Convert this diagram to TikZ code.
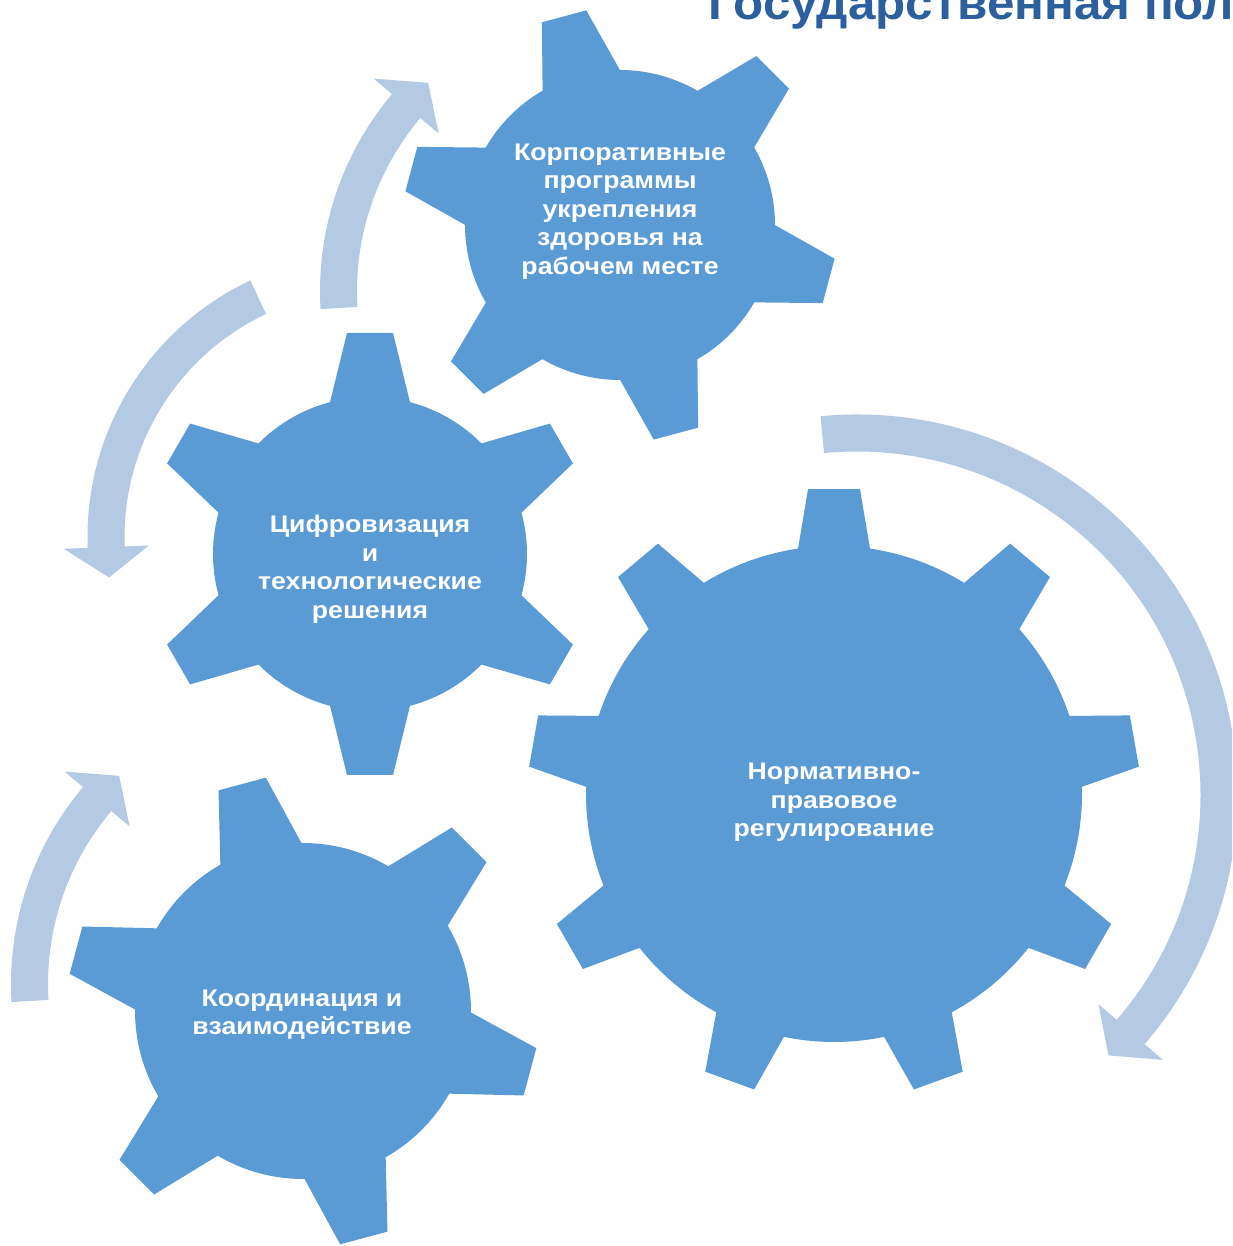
\documentclass[tikz,border=0pt]{standalone}
\usepackage{fontspec}
\setmainfont{Liberation Sans}
\newfontfamily\gearfont[FakeStretch=1.11]{Liberation Sans}
\newfontfamily\titlefont[FakeStretch=1.05]{Liberation Sans}
\definecolor{gearblue}{HTML}{5B9BD5}
\definecolor{arrowblue}{HTML}{B4C9E4}
\definecolor{titleblue}{HTML}{2C5F9E}
% gear: #1 centre, #2 tooth angles, #3 step, #4 body r, #5 base half width, #6 tip dist, #7 tip half width, #8 first angle
\newcommand{\gearshape}[8]{%
  \pgfmathsetmacro\gdb{asin(#5/#4)}%
  \pgfmathsetmacro\gdt{atan(#7/#6)}%
  \pgfmathsetlengthmacro\grt{100*sqrt((#6/100)*(#6/100)+(#7/100)*(#7/100))}%
  \fill[gearblue, shift={(#1)}] (#8-\gdb:#4pt)
    \foreach \t in {#2} { -- (\t-\gdt:\grt) -- (\t+\gdt:\grt) -- (\t+\gdb:#4pt)
      arc[start angle=\t+\gdb, end angle=\t+#3-\gdb, radius=#4pt] } -- cycle;}
% arrow: #1 centre, #2 mid radius, #3 start angle, #4 shaft end angle, #5 tip angle
\newcommand{\carrow}[5]{%
  \pgfmathsetlengthmacro\aro{#2+18.5}%
  \pgfmathsetlengthmacro\ari{#2-18.5}%
  \pgfmathsetlengthmacro\abo{#2+42.5}%
  \pgfmathsetlengthmacro\abi{#2-42.5}%
  \fill[arrowblue, shift={(#1)}] (#3:\aro) arc[start angle=#3, end angle=#4, radius=\aro]
    -- (#4:\abo) -- (#5:#2pt) -- (#4:\abi) -- (#4:\ari)
    arc[start angle=#4, end angle=#3, radius=\ari] -- cycle;}
\tikzset{gtext/.style={text=white, font=\gearfont\bfseries\fontsize{24}{28.5}\selectfont, align=center, inner sep=0pt}}
\begin{document}
\begin{tikzpicture}[x=1pt,y=1pt]
\useasboundingbox (0,0) rectangle (1232,1246);
\clip (0,0) rectangle (1232,1246);
\fill[white] (0,0) rectangle (1232,1246);
% arrows
\carrow{625,955}{286.5}{183.4}{139.8}{133.4}
\carrow{316,262}{286.5}{183.4}{139.8}{133.4}
\carrow{371,709}{265}{115.2}{182.2}{188.8}
\carrow{857,451}{362}{95.5}{-40.9}{-46}
% gears
\gearshape{834,452}{90,130,...,410}{40}{248}{36}{305}{26}{90}
\gearshape{370,692}{90,150,...,390}{60}{157}{40}{221}{23}{90}
\gearshape{620,1021}{105,165,...,405}{60}{155}{40}{216}{23}{105}
\gearshape{303,235}{105,165,...,405}{60}{168}{42}{235}{24.5}{105}
% texts
\node[gtext] (t1) at (834,443.5) {Нормативно-\\правовое\\регулирование};
\node[gtext] (t2) at (370,676.5) {Цифровизация\\и\\технологические\\решения};
\node[gtext] (t3) at (620,1034.5) {Корпоративные\\программы\\укрепления\\здоровья на\\рабочем месте};
\node[gtext] (t4) at (302,231.5) {Координация и\\взаимодействие};
\node[anchor=base west, inner sep=0pt, text=titleblue, font=\titlefont\bfseries\fontsize{47}{50}\selectfont] (title) at (708,1226) {Государственная пол};
\end{tikzpicture}
\end{document}
